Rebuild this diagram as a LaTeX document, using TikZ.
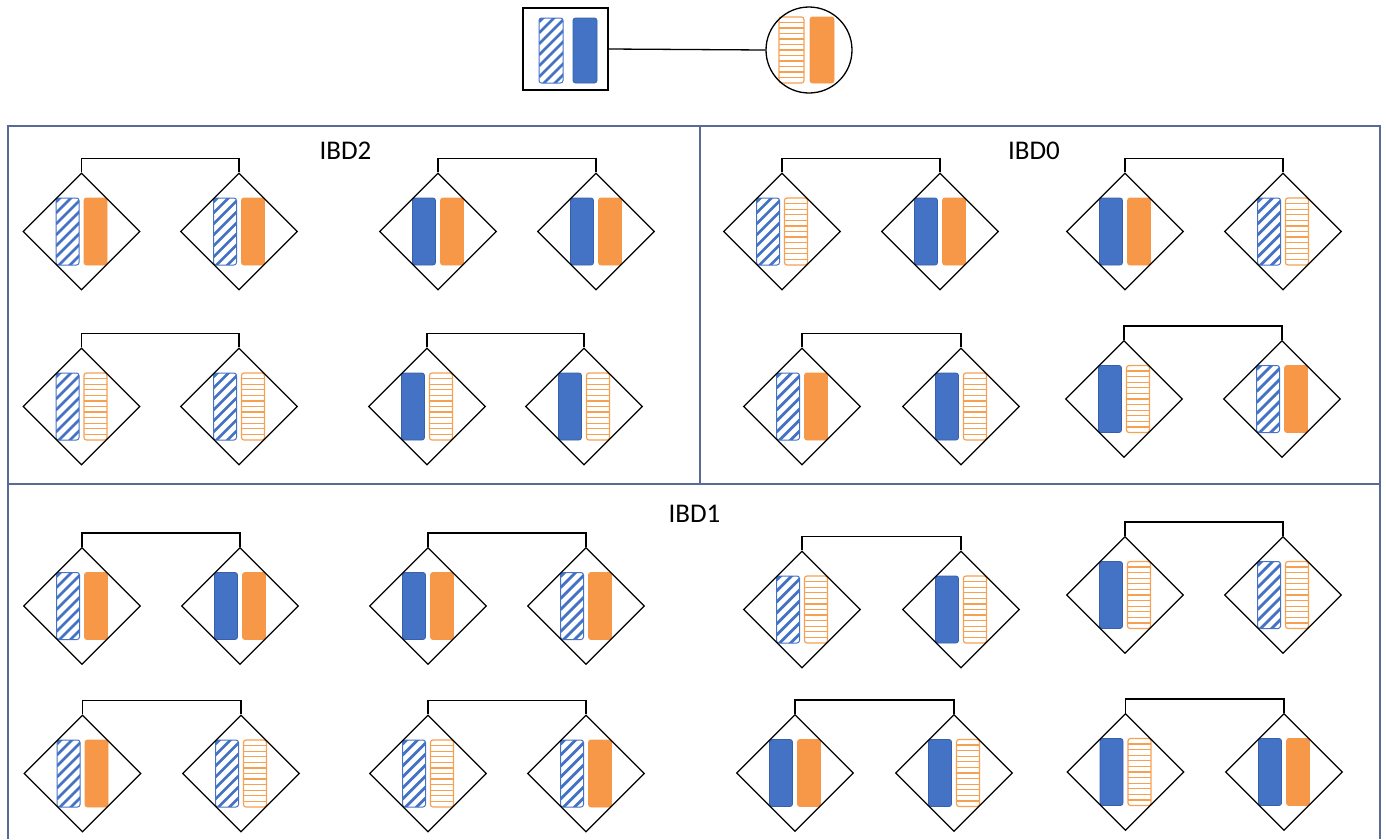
\documentclass[tikz,border=0pt]{standalone}
\usepackage{fontspec}
\setmainfont{Carlito}
\usetikzlibrary{shapes.geometric}
\definecolor{cblue}{RGB}{68,114,196}
\definecolor{cbluedk}{RGB}{55,96,172}
\definecolor{corange}{RGB}{247,152,72}
\definecolor{corangelt}{RGB}{246,160,82}
\definecolor{cframe}{RGB}{86,108,150}
\tikzset{
  dia/.style={diamond,draw=black,line width=1.3pt,minimum width=117pt,minimum height=117pt,inner sep=0pt},
  conn/.style={draw=black,line width=1.3pt},
  frameline/.style={draw=cframe,line width=1.2pt},
  hbline/.style={draw=cblue,line width=2.8pt},
  hbbox/.style={draw=cblue,line width=1pt,rounded corners=2.5pt},
  holine/.style={draw=corangelt,line width=1.2pt},
  hobox/.style={draw=corangelt,line width=1.2pt,rounded corners=2.5pt},
  sbbox/.style={fill=cblue,draw=cbluedk,line width=0.8pt,rounded corners=2.5pt},
  sobox/.style={fill=corange,draw=corange,line width=0.8pt,rounded corners=2.5pt},
  lab/.style={font=\fontsize{27}{30}\selectfont,inner sep=0pt},
  fatherbox/.style={rectangle,draw=black,line width=1.3pt,minimum width=85pt,minimum height=82pt,inner sep=0pt},
  motherbox/.style={circle,draw=black,line width=1.3pt,minimum size=86pt,inner sep=0pt}
}
\newcommand\barHB[4]{%
  \begin{scope}
    \clip[rounded corners=2.5pt] ({#1},{#2}) rectangle ({#3},{#4});
    \foreach \k in {0,...,9} \draw[hbline] ({#1},{(#2)+4+\k*11}) -- ++(45,-45);
  \end{scope}
  \draw[hbbox] ({#1},{#2}) rectangle ({#3},{#4});
}
\newcommand\barHO[4]{%
  \begin{scope}
    \clip[rounded corners=2.5pt] ({#1},{#2}) rectangle ({#3},{#4});
    \foreach \k in {1,...,11} \draw[holine] ({#1},{(#2)+\k*((#4)-(#2))/12}) -- ({#3},{(#2)+\k*((#4)-(#2))/12});
  \end{scope}
  \draw[hobox] ({#1},{#2}) rectangle ({#3},{#4});
}
\newcommand\barSB[4]{\draw[sbbox] ({#1},{#2}) rectangle ({#3},{#4});}
\newcommand\barSO[4]{\draw[sobox] ({#1},{#2}) rectangle ({#3},{#4});}
% name, x, y, left type, right type
\newcommand\Dia[5]{%
  \csname bar#4\endcsname{(#2)-25.5}{(#3)-33.5}{(#2)-2.5}{(#3)+33.5}%
  \csname bar#5\endcsname{(#2)+2.5}{(#3)-33.5}{(#2)+25.5}{(#3)+33.5}%
  \node[dia] (#1) at (#2,#3) {};
}
\newcommand\Pair[2]{\draw[conn] (#1.north) -- ++(0,-14) -| (#2.north);}
\begin{document}
\begin{tikzpicture}[x=1pt,y=-1pt]
\useasboundingbox (0,0) rectangle (1386,839);
% parents
\barHB{539}{18}{563}{83}
\barSB{573}{18}{597}{83}
\barHO{779}{17}{804}{83}
\barSO{810}{17}{834}{83}
\node[fatherbox] (fa) at (565.5,49) {};
\node[motherbox] (mo) at (809,50) {};
\draw[conn] (fa.east) -- (mo.west);
% frame
\draw[frameline] (8,839) -- (8,126) -- (1380,126) -- (1380,839);
\draw[frameline] (8,484) -- (1380,484);
\draw[frameline] (700,126) -- (700,484);
% labels
\node[lab] (l2) at (345.5,151) {IBD2};
\node[lab] (l0) at (1034,151) {IBD0};
\node[lab] (l1) at (694.5,514) {IBD1};
% IBD2
\Dia{a1}{81.5}{231.5}{HB}{SO}
\Dia{a2}{239}{231.5}{HB}{SO}
\Dia{a3}{438}{231.5}{SB}{SO}
\Dia{a4}{596}{231.5}{SB}{SO}
\Dia{a5}{81.5}{406.5}{HB}{HO}
\Dia{a6}{239}{406.5}{HB}{HO}
\Dia{a7}{427}{406.5}{SB}{HO}
\Dia{a8}{584}{406.5}{SB}{HO}
\Pair{a1}{a2}\Pair{a3}{a4}\Pair{a5}{a6}\Pair{a7}{a8}
% IBD0
\Dia{b1}{782}{231.5}{HB}{HO}
\Dia{b2}{940}{231.5}{SB}{SO}
\Dia{b3}{1125}{231.5}{SB}{SO}
\Dia{b4}{1283}{231.5}{HB}{HO}
\Dia{b5}{802}{406.5}{HB}{SO}
\Dia{b6}{961}{406.5}{SB}{HO}
\Dia{b7}{1124}{399}{SB}{HO}
\Dia{b8}{1282}{399}{HB}{SO}
\Pair{b1}{b2}\Pair{b3}{b4}\Pair{b5}{b6}\Pair{b7}{b8}
% IBD1 row 1
\Dia{c1}{82}{606}{HB}{SO}
\Dia{c2}{240}{606}{SB}{SO}
\Dia{c3}{428}{606}{SB}{SO}
\Dia{c4}{586}{606}{HB}{SO}
\Dia{c5}{802}{609.5}{HB}{HO}
\Dia{c6}{961}{609.5}{SB}{HO}
\Dia{c7}{1125}{595}{SB}{HO}
\Dia{c8}{1283}{595}{HB}{HO}
\Pair{c1}{c2}\Pair{c3}{c4}\Pair{c5}{c6}\Pair{c7}{c8}
% IBD1 row 2
\Dia{d1}{82.5}{773.5}{HB}{SO}
\Dia{d2}{241}{773.5}{HB}{HO}
\Dia{d3}{428}{773.5}{HB}{HO}
\Dia{d4}{586}{773.5}{HB}{SO}
\Dia{d5}{795}{773}{SB}{SO}
\Dia{d6}{954}{773}{SB}{HO}
\Dia{d7}{1125.5}{772}{SB}{HO}
\Dia{d8}{1284}{772}{SB}{SO}
\Pair{d1}{d2}\Pair{d3}{d4}\Pair{d5}{d6}\Pair{d7}{d8}
\end{tikzpicture}
\end{document}
